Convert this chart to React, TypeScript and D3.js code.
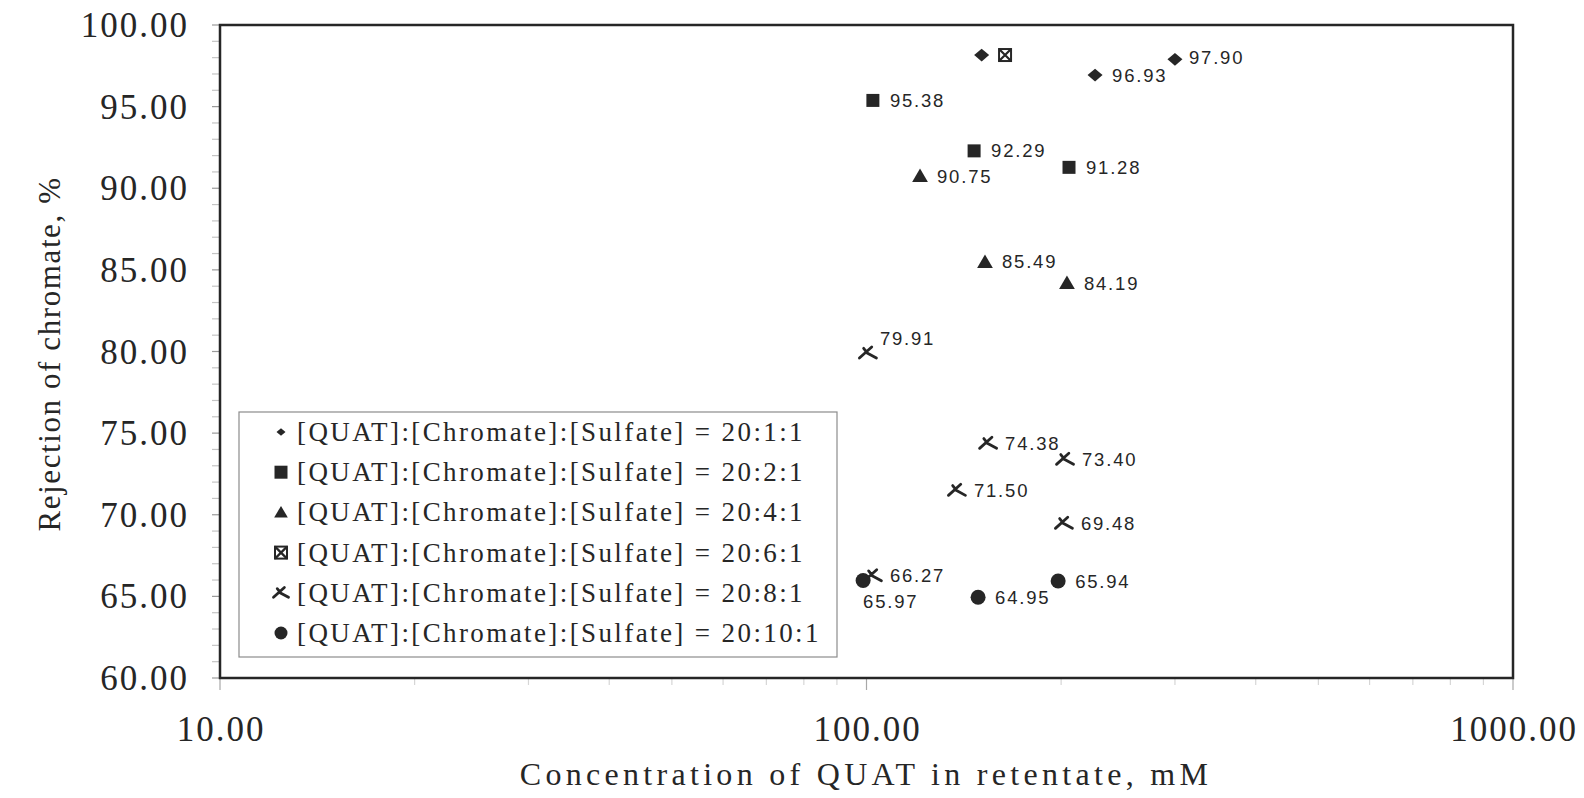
import React, { useRef, useEffect } from 'react';
import * as d3 from 'd3';

// series names (legend)
const seriesNames = [
  '[QUAT]:[Chromate]:[Sulfate] = 20:1:1',
  '[QUAT]:[Chromate]:[Sulfate] = 20:2:1',
  '[QUAT]:[Chromate]:[Sulfate] = 20:4:1',
  '[QUAT]:[Chromate]:[Sulfate] = 20:6:1',
  '[QUAT]:[Chromate]:[Sulfate] = 20:8:1',
  '[QUAT]:[Chromate]:[Sulfate] = 20:10:1',
];

// concentration of QUAT in retentate (mM) and rejection of chromate (%)
const quat_1_1 = [150.7, 225.7, 300.0];
const rej_1_1 = [98.16, 96.93, 97.9];
const quat_2_1 = [102.3, 146.7, 205.7];
const rej_2_1 = [95.38, 92.29, 91.28];
const quat_4_1 = [121.0, 152.5, 204.2];
const rej_4_1 = [90.75, 85.49, 84.19];
const quat_6_1 = [163.8];
const rej_6_1 = [98.16];
const quat_8_1 = [100.5, 154.2, 202.8, 138.0, 202.0, 102.3];
const rej_8_1 = [79.91, 74.38, 73.4, 71.5, 69.48, 66.27];
const quat_10_1 = [98.8, 148.8, 197.9];
const rej_10_1 = [65.97, 64.95, 65.94];

const xTicks = [10, 100, 1000];
const yTicks = [60, 65, 70, 75, 80, 85, 90, 95, 100];

const allX = [quat_1_1, quat_2_1, quat_4_1, quat_6_1, quat_8_1, quat_10_1];
const allY = [rej_1_1, rej_2_1, rej_4_1, rej_6_1, rej_8_1, rej_10_1];

// which point labels are shown, and where they sit relative to the marker
const showLabel = [[false, true, true], [true, true, true], [true, true, true], [false], [true, true, true, true, true, true], [true, true, true]];
const labelShift: Record<string, [number, number]> = {
  '97.90': [14, -2],
  '79.91': [12, -14],
  '65.97': [0, 21],
};

const markerPath = (i: number, s: number) => {
  const h = s / 2;
  switch (i) {
    case 0:
      return `M0,${-h * 0.85}L${h},0L0,${h * 0.85}L${-h},0Z`;
    case 1:
      return `M${-h},${-h}H${h}V${h}H${-h}Z`;
    case 2:
      return `M0,${-h}L${h * 1.05},${h * 0.8}L${-h * 1.05},${h * 0.8}Z`;
    case 5:
      return d3.symbol(d3.symbolCircle, Math.PI * h * h)() as string;
    default:
      return '';
  }
};

const App = () => {
  const ref = useRef<SVGSVGElement>(null);

  useEffect(() => {
    const svg = d3.select(ref.current);
    svg.selectAll('*').remove();

    const left = 220, right = 1513, top = 25, bottom = 678;
    const x = d3.scaleLog().domain([10, 1000]).range([left, right]);
    const y = d3.scaleLinear().domain([60, 100]).range([bottom, top]);
    const ink = '#262626';

    svg.append('rect').attr('width', 1584).attr('height', 798).attr('fill', '#fff');

    // y ticks (every 1%)
    const yMinor = d3.range(60, 100.5, 1);
    svg.append('g').selectAll('line').data(yMinor).enter().append('line')
      .attr('x1', left - 8).attr('x2', left)
      .attr('y1', (d) => y(d)).attr('y2', (d) => y(d))
      .attr('stroke', (d) => (d % 5 === 0 ? '#9a9a9a' : '#c4c4c4')).attr('stroke-width', 1.2);

    // x ticks (log decades with minor ticks)
    const xMinor: number[] = [];
    [10, 100].forEach((dec) => d3.range(2, 10).forEach((k) => xMinor.push(dec * k)));
    svg.append('g').selectAll('line').data(xMinor).enter().append('line')
      .attr('x1', (d) => x(d)).attr('x2', (d) => x(d))
      .attr('y1', bottom).attr('y2', bottom + 7)
      .attr('stroke', '#d6d6d6').attr('stroke-width', 1.2);
    svg.append('g').selectAll('line').data(xTicks).enter().append('line')
      .attr('x1', (d) => x(d)).attr('x2', (d) => x(d))
      .attr('y1', bottom).attr('y2', bottom + 12)
      .attr('stroke', '#a8a8a8').attr('stroke-width', 1.2);

    // frame
    svg.append('rect')
      .attr('x', left).attr('y', top).attr('width', right - left).attr('height', bottom - top)
      .attr('fill', 'none').attr('stroke', ink).attr('stroke-width', 2.5);

    const serif = '"Liberation Serif", "Times New Roman", serif';
    const sans = '"Liberation Sans", Arial, sans-serif';

    // y tick labels
    svg.append('g').selectAll('text').data(yTicks).enter().append('text')
      .attr('x', 189).attr('y', (d) => y(d) + 12)
      .attr('text-anchor', 'end')
      .style('font-family', serif).style('font-size', '35px').style('letter-spacing', '2px')
      .attr('fill', ink)
      .text((d) => d.toFixed(2));

    // x tick labels
    svg.append('g').selectAll('text').data(xTicks).enter().append('text')
      .attr('x', (d) => x(d) + 1).attr('y', 741)
      .attr('text-anchor', 'middle')
      .style('font-family', serif).style('font-size', '35px').style('letter-spacing', '2px')
      .attr('fill', ink)
      .text((d) => d.toFixed(2));

    // axis titles
    svg.append('text')
      .attr('x', 866).attr('y', 785)
      .attr('text-anchor', 'middle')
      .style('font-family', serif).style('font-size', '32px').style('letter-spacing', '4.3px')
      .attr('fill', ink)
      .text('Concentration of QUAT in retentate, mM');

    svg.append('text')
      .attr('transform', 'translate(60,354) rotate(-90)')
      .attr('text-anchor', 'middle')
      .style('font-family', serif).style('font-size', '31px').style('letter-spacing', '1.6px')
      .attr('fill', ink)
      .text('Rejection of chromate, %');

    // draws one marker of series i at (cx, cy)
    const drawMarker = (g: any, i: number, cx: number, cy: number, s: number) => {
      const t = `translate(${cx},${cy})`;
      if (i === 3) {
        const h = s / 2;
        g.append('rect').attr('x', cx - h).attr('y', cy - h).attr('width', s).attr('height', s)
          .attr('fill', 'none').attr('stroke', ink).attr('stroke-width', 2);
        g.append('path').attr('transform', t)
          .attr('d', `M${-h},${-h}L${h},${h}M${h},${-h}L${-h},${h}`)
          .attr('stroke', ink).attr('stroke-width', 2.2);
      } else if (i === 4) {
        const h = s / 2;
        g.append('path').attr('transform', t)
          .attr('d', `M${-h},${h * 0.6}L${h * 0.45},${-h * 0.7}M${-h * 0.2},${-h * 0.05}L${h},${h * 0.6}M${-h * 0.5},${-h * 0.55}L${-h * 0.1},${-h * 0.05}`)
          .attr('fill', 'none').attr('stroke', ink).attr('stroke-width', 2.8).attr('stroke-linecap', 'round');
      } else {
        g.append('path').attr('transform', t).attr('d', markerPath(i, s)).attr('fill', ink);
      }
    };

    const markSize = [15, 13, 15, 12, 17, 15];

    // points and labels
    const pts = svg.append('g');
    allX.forEach((xs, i) => {
      xs.forEach((xv, j) => {
        const yv = allY[i][j];
        drawMarker(pts, i, x(xv), y(yv), markSize[i]);
        if (showLabel[i][j]) {
          const lab = yv.toFixed(2);
          const [dx, dy] = labelShift[lab] || [17, 0];
          pts.append('text')
            .attr('x', x(xv) + dx).attr('y', y(yv) + dy + 6.5)
            .style('font-family', sans).style('font-size', '18.5px').style('letter-spacing', '1.8px')
            .attr('fill', ink)
            .text(lab);
        }
      });
    });

    // legend
    const lg = svg.append('g');
    lg.append('rect')
      .attr('x', 239).attr('y', 412).attr('width', 598).attr('height', 245)
      .attr('fill', '#fff').attr('stroke', '#8c8c8c').attr('stroke-width', 1.2);
    const legSize = [9, 13, 13, 12, 15, 13];
    seriesNames.forEach((name, i) => {
      const cy = 432 + i * 40.2;
      drawMarker(lg, i, 281, cy, legSize[i]);
      lg.append('text')
        .attr('x', 297).attr('y', cy + 9)
        .style('font-family', serif).style('font-size', '27px').style('letter-spacing', '2.4px')
        .attr('fill', ink)
        .text(name);
    });
  }, []);

  return (
    <svg
      ref={ref}
      width={1584}
      height={798}
      style={{ position: 'absolute', left: 0, top: 0, display: 'block' }}
    />
  );
};

export default App;
